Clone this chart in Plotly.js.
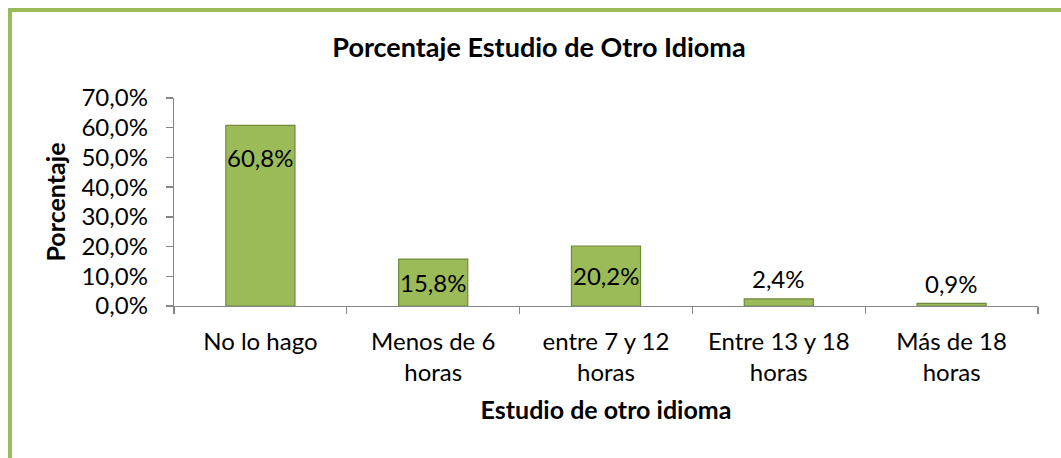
<!DOCTYPE html>
<html>
<head>
<meta charset="utf-8">
<script src="https://cdn.plot.ly/plotly-3.0.1.min.js"></script>
<style>
  html, body { margin: 0; padding: 0; background: #ffffff; }
  #chart { width: 1061px; height: 458px; }
</style>
</head>
<body>
<div id="chart"></div>
<script>
// ---- data ----
const categories = ["No lo hago", "Menos de 6<br>horas", "entre 7 y 12<br>horas", "Entre 13 y 18<br>horas", "Más de 18<br>horas"];
const values = [0.608, 0.158, 0.202, 0.024, 0.009];
const labelPlacement = ["upper", "center", "center", "outside", "outside"];
const yTicks = [0, 0.1, 0.2, 0.3, 0.4, 0.5, 0.6, 0.7];

const chartTitle = "Porcentaje Estudio de Otro Idioma";
const xTitle = "Estudio de otro idioma";
const yTitle = "Porcentaje";

// ---- style ----
const FONT = "Lato, 'Open Sans', sans-serif";
const barFill = "#9BBB59";
const barLine = "#71893F";
const axisGrey = "#868686";
const TICK_SIZE = 24;

function fmtPct(v) {
  return (v * 100).toFixed(1).replace(".", ",") + "%";
}

const annotations = values.map((v, i) => {
  const p = labelPlacement[i];
  const a = {
    x: categories[i], y: v, xref: "x", yref: "y",
    text: fmtPct(v), showarrow: false,
    font: { family: FONT, size: TICK_SIZE, color: "#000000" },
    yanchor: "middle"
  };
  if (p === "upper") { a.yshift = -32; }
  else if (p === "center") { a.y = v / 2; }
  else { a.yshift = 20; }
  return a;
});

const trace = {
  type: "bar",
  x: categories,
  y: values,
  width: 0.4,
  marker: { color: barFill, line: { color: barLine, width: 1.2 } },
  hoverinfo: "skip"
};

const L = 174, R = 23, T = 98, B = 152;
const pw = 1061 - L - R, ph = 458 - T - B;
const px = (x) => (x - L) / pw;
const py = (y) => (458 - B - y) / ph;

const layout = {
  width: 1061, height: 458,
  margin: { l: L, r: R, t: T, b: B, pad: 0 },
  paper_bgcolor: "#ffffff",
  plot_bgcolor: "#ffffff",
  separators: ",.",
  showlegend: false,
  font: { family: FONT, size: TICK_SIZE, color: "#000000" },
  title: {
    text: "<b>" + chartTitle + "</b>",
    font: { family: FONT, size: 27, color: "#000000" },
    xref: "container", x: 539 / 1061, xanchor: "center",
    yref: "container", y: 1 - 48 / 458, yanchor: "middle"
  },
  xaxis: {
    type: "category",
    range: [-0.5, 4.5],
    showline: true, linecolor: axisGrey, linewidth: 1.3,
    ticks: "outside", tickson: "boundaries", ticklen: 7, tickcolor: axisGrey, tickwidth: 1.3,
    ticklabelstandoff: 14,
    showgrid: false, zeroline: false,
    tickfont: { family: FONT, size: TICK_SIZE, color: "#000000" },
    title: { text: "<b>" + xTitle + "</b>", font: { family: FONT, size: 25, color: "#000000" }, standoff: 16 },
    fixedrange: true
  },
  yaxis: {
    range: [0, 0.7],
    tickvals: yTicks,
    tickformat: ".1%",
    showline: true, linecolor: axisGrey, linewidth: 1.3,
    ticks: "outside", ticklen: 7, tickcolor: axisGrey, tickwidth: 1.3,
    ticklabelstandoff: 13,
    showgrid: false, zeroline: false,
    tickfont: { family: FONT, size: TICK_SIZE, color: "#000000" },
    title: { text: "<b>" + yTitle + "</b>", font: { family: FONT, size: 25, color: "#000000" }, standoff: 8 },
    fixedrange: true
  },
  annotations: annotations,
  shapes: [
    { type: "line", xref: "paper", yref: "paper", x0: px(10), x1: px(10), y0: py(8), y1: py(470), line: { color: barFill, width: 4 } },
    { type: "line", xref: "paper", yref: "paper", x0: px(8), x1: px(1075), y0: py(10), y1: py(10), line: { color: barFill, width: 4 } }
  ]
};

Plotly.newPlot("chart", [trace], layout, { displayModeBar: false, staticPlot: true });
</script>
</body>
</html>
